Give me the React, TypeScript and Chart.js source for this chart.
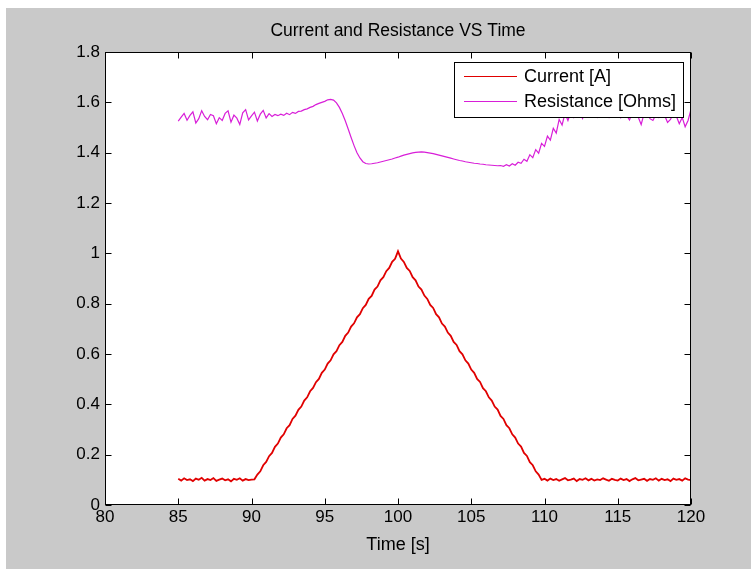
import React, { useEffect, useRef } from 'react';
import { Chart, registerables } from 'chart.js';

Chart.register(...registerables);

const TITLE = 'Current and Resistance VS Time';
const X_TITLE = 'Time [s]';
const SERIES_NAMES = ['Current [A]', 'Resistance [Ohms]'];
const SERIES_COLORS = ['#e00000', '#d81ed8'];
const X_TICKS = [80, 85, 90, 95, 100, 105, 110, 115, 120];
const Y_TICKS = [0, 0.2, 0.4, 0.6, 0.8, 1, 1.2, 1.4, 1.6, 1.8];
const Y_TICK_LABELS = ['0', '0.2', '0.4', '0.6', '0.8', '1', '1.2', '1.4', '1.6', '1.8'];

const time = [
  85, 85.2, 85.4, 85.6, 85.8,
  86, 86.2, 86.4, 86.6, 86.8,
  87, 87.2, 87.4, 87.6, 87.8,
  88, 88.2, 88.4, 88.6, 88.8,
  89, 89.2, 89.4, 89.6, 89.8,
  90, 90.2, 90.4, 90.6, 90.8,
  91, 91.2, 91.4, 91.6, 91.8,
  92, 92.2, 92.4, 92.6, 92.8,
  93, 93.2, 93.4, 93.6, 93.8,
  94, 94.2, 94.4, 94.6, 94.8,
  95, 95.2, 95.4, 95.6, 95.8,
  96, 96.2, 96.4, 96.6, 96.8,
  97, 97.2, 97.4, 97.6, 97.8,
  98, 98.2, 98.4, 98.6, 98.8,
  99, 99.2, 99.4, 99.6, 99.8,
  100, 100.2, 100.4, 100.6, 100.8,
  101, 101.2, 101.4, 101.6, 101.8,
  102, 102.2, 102.4, 102.6, 102.8,
  103, 103.2, 103.4, 103.6, 103.8,
  104, 104.2, 104.4, 104.6, 104.8,
  105, 105.2, 105.4, 105.6, 105.8,
  106, 106.2, 106.4, 106.6, 106.8,
  107, 107.2, 107.4, 107.6, 107.8,
  108, 108.2, 108.4, 108.6, 108.8,
  109, 109.2, 109.4, 109.6, 109.8,
  110, 110.2, 110.4, 110.6, 110.8,
  111, 111.2, 111.4, 111.6, 111.8,
  112, 112.2, 112.4, 112.6, 112.8,
  113, 113.2, 113.4, 113.6, 113.8,
  114, 114.2, 114.4, 114.6, 114.8,
  115, 115.2, 115.4, 115.6, 115.8,
  116, 116.2, 116.4, 116.6, 116.8,
  117, 117.2, 117.4, 117.6, 117.8,
  118, 118.2, 118.4, 118.6, 118.8,
  119, 119.2, 119.4, 119.6, 119.8,
  120,
];

const current = [
  0.104, 0.097, 0.106, 0.099, 0.102,
  0.095, 0.105, 0.100, 0.108, 0.097,
  0.103, 0.099, 0.107, 0.096, 0.101,
  0.105, 0.098, 0.102, 0.094, 0.104,
  0.100, 0.106, 0.097, 0.103, 0.099,
  0.101, 0.102, 0.121, 0.134, 0.158,
  0.171, 0.194, 0.207, 0.231, 0.244,
  0.268, 0.281, 0.305, 0.317, 0.342,
  0.355, 0.378, 0.391, 0.415, 0.428,
  0.452, 0.465, 0.488, 0.501, 0.525,
  0.538, 0.562, 0.575, 0.599, 0.611,
  0.635, 0.648, 0.672, 0.685, 0.709,
  0.722, 0.746, 0.758, 0.782, 0.795,
  0.819, 0.831, 0.856, 0.868, 0.893,
  0.905, 0.929, 0.942, 0.966, 0.978,
  1.008, 0.979, 0.966, 0.942, 0.930,
  0.905, 0.893, 0.868, 0.856, 0.832,
  0.819, 0.795, 0.783, 0.758, 0.746,
  0.721, 0.709, 0.685, 0.672, 0.648,
  0.636, 0.611, 0.599, 0.575, 0.562,
  0.538, 0.525, 0.501, 0.489, 0.464,
  0.452, 0.428, 0.415, 0.391, 0.379,
  0.354, 0.342, 0.317, 0.305, 0.281,
  0.268, 0.244, 0.232, 0.207, 0.195,
  0.170, 0.158, 0.134, 0.121, 0.100,
  0.104, 0.097, 0.105, 0.099, 0.103,
  0.096, 0.102, 0.107, 0.098, 0.101,
  0.105, 0.095, 0.103, 0.100, 0.106,
  0.098, 0.104, 0.097, 0.102, 0.099,
  0.106, 0.101, 0.096, 0.104, 0.100,
  0.097, 0.105, 0.099, 0.103, 0.095,
  0.102, 0.107, 0.098, 0.101, 0.104,
  0.096, 0.103, 0.100, 0.106, 0.097,
  0.104, 0.099, 0.102, 0.095, 0.105,
  0.100, 0.103, 0.097, 0.106, 0.101,
  0.099,
];

const resistance = [
  1.525, 1.541, 1.556, 1.529, 1.548,
  1.562, 1.518, 1.535, 1.567, 1.544,
  1.531, 1.552, 1.547, 1.515, 1.539,
  1.528, 1.556, 1.566, 1.521, 1.549,
  1.537, 1.512, 1.558, 1.571, 1.530,
  1.546, 1.561, 1.526, 1.553, 1.568,
  1.538, 1.555, 1.544, 1.552, 1.547,
  1.553, 1.548, 1.557, 1.551, 1.560,
  1.556, 1.564, 1.565, 1.571, 1.574,
  1.580, 1.584, 1.591, 1.596, 1.600,
  1.604, 1.610, 1.612, 1.609, 1.598,
  1.580, 1.556, 1.527, 1.494, 1.460,
  1.428, 1.400, 1.379, 1.364, 1.357,
  1.355, 1.356, 1.358, 1.360, 1.363,
  1.366, 1.369, 1.372, 1.375, 1.379,
  1.382, 1.386, 1.390, 1.393, 1.396,
  1.399, 1.401, 1.402, 1.403, 1.402,
  1.400, 1.398, 1.396, 1.393, 1.390,
  1.387, 1.384, 1.381, 1.378, 1.375,
  1.372, 1.369, 1.367, 1.364, 1.362,
  1.360, 1.358, 1.357, 1.355, 1.354,
  1.352, 1.351, 1.350, 1.349, 1.348,
  1.349, 1.346, 1.352, 1.347, 1.356,
  1.350, 1.362, 1.358, 1.374, 1.366,
  1.392, 1.380, 1.412, 1.398, 1.437,
  1.425, 1.466, 1.450, 1.497, 1.478,
  1.532, 1.510, 1.556, 1.528, 1.562,
  1.540, 1.566, 1.558, 1.536, 1.570,
  1.548, 1.575, 1.562, 1.541, 1.566,
  1.578, 1.552, 1.540, 1.560, 1.571,
  1.546, 1.538, 1.565, 1.549, 1.530,
  1.558, 1.562, 1.541, 1.512, 1.556,
  1.560, 1.535, 1.528, 1.551, 1.540,
  1.563, 1.548, 1.520, 1.532, 1.558,
  1.545, 1.515, 1.540, 1.503, 1.528,
  1.572,
];

const FONT_FAMILY = "'Liberation Sans', Arial, Helvetica, sans-serif";
const FIG_BG = '#c9c9c9';
const LEGEND_FONT_SIZE = 18;

const matlabFrame = {
  id: 'matlabFrame',
  beforeDraw(chart: any) {
    const { ctx, width, height, chartArea: a } = chart;
    ctx.save();
    ctx.fillStyle = FIG_BG;
    ctx.fillRect(0, 0, width, height);
    ctx.fillStyle = '#ffffff';
    ctx.fillRect(a.left, a.top, a.right - a.left, a.bottom - a.top);
    ctx.restore();
  },
  afterDatasetsDraw(chart: any) {
    const { ctx, chartArea: a, scales } = chart;
    const xs = scales.x;
    const ys = scales.y;
    const L = Math.round(a.left) + 0.5;
    const R = Math.round(a.right) - 0.5;
    const T = Math.round(a.top) + 0.5;
    const B = Math.round(a.bottom) - 0.5;
    const tl = 6;
    ctx.save();
    ctx.strokeStyle = '#000';
    ctx.lineWidth = 1;
    ctx.beginPath();
    X_TICKS.forEach((v) => {
      const px = Math.round(xs.getPixelForValue(v)) + 0.5;
      ctx.moveTo(px, B);
      ctx.lineTo(px, B - tl);
      ctx.moveTo(px, T);
      ctx.lineTo(px, T + tl);
    });
    Y_TICKS.forEach((v) => {
      const py = Math.round(ys.getPixelForValue(v)) + 0.5;
      ctx.moveTo(L, py);
      ctx.lineTo(L + tl, py);
      ctx.moveTo(R, py);
      ctx.lineTo(R - tl, py);
    });
    ctx.stroke();
    ctx.strokeRect(L, T, R - L, B - T);

    // legend box (MATLAB style, inside axes, north-east)
    ctx.font = `${LEGEND_FONT_SIZE}px ${FONT_FAMILY}`;
    const maxW = Math.max(...SERIES_NAMES.map((s) => ctx.measureText(s).width));
    const w = Math.round(70 + maxW + 8);
    const h = 56;
    const right = Math.round(a.right) - 7;
    const left = right - w;
    const top = Math.round(a.top) + 10;
    ctx.fillStyle = '#ffffff';
    ctx.fillRect(left, top, w, h);
    ctx.strokeStyle = '#000';
    ctx.strokeRect(left + 0.5, top + 0.5, w - 1, h - 1);
    const rows = [14.5, 39.5];
    chart.data.datasets.forEach((ds: any, i: number) => {
      const y = top + rows[i];
      ctx.strokeStyle = ds.borderColor;
      ctx.lineWidth = 1.2;
      ctx.beginPath();
      ctx.moveTo(left + 10, y);
      ctx.lineTo(left + 63, y);
      ctx.stroke();
      ctx.fillStyle = '#000';
      ctx.textBaseline = 'middle';
      ctx.textAlign = 'left';
      ctx.fillText(ds.label, left + 70, y + 1);
    });
    ctx.restore();
  },
};

export default function App() {
  const canvasRef = useRef<HTMLCanvasElement | null>(null);

  useEffect(() => {
    const canvas = canvasRef.current;
    if (!canvas) return;
    const chart = new Chart(canvas, {
      type: 'line',
      data: {
        datasets: [
          {
            label: SERIES_NAMES[0],
            data: time.map((t, i) => ({ x: t, y: current[i] })),
            borderColor: SERIES_COLORS[0],
            borderWidth: 1.8,
            pointRadius: 0,
            tension: 0,
          },
          {
            label: SERIES_NAMES[1],
            data: time.map((t, i) => ({ x: t, y: resistance[i] })),
            borderColor: SERIES_COLORS[1],
            borderWidth: 1.2,
            pointRadius: 0,
            tension: 0,
          },
        ],
      },
      options: {
        responsive: false,
        animation: false,
        events: [],
        layout: { padding: { left: 0, right: 60, top: 0, bottom: 0 } },
        plugins: {
          legend: { display: false },
          tooltip: { enabled: false },
          title: {
            display: true,
            text: TITLE,
            fullSize: false,
            color: '#000',
            font: { family: FONT_FAMILY, size: 17.5, weight: 'normal', lineHeight: 1.2 },
            padding: { top: 12.5, bottom: 10.5 },
          },
        },
        scales: {
          x: {
            type: 'linear',
            min: 80,
            max: 120,
            grid: { display: false, drawTicks: false },
            border: { display: false },
            afterBuildTicks: (scale: any) => {
              scale.ticks = X_TICKS.map((v) => ({ value: v }));
            },
            afterFit: (scale: any) => {
              scale.height = 64;
            },
            ticks: {
              color: '#000',
              padding: 5,
              maxRotation: 0,
              autoSkip: false,
              font: { family: FONT_FAMILY, size: 17, lineHeight: 0.9 },
              callback: (v: any) => String(v),
            },
            title: {
              display: true,
              text: X_TITLE,
              color: '#000',
              font: { family: FONT_FAMILY, size: 18, lineHeight: 1.2 },
              padding: { top: 0, bottom: 13 },
            },
          },
          y: {
            type: 'linear',
            min: 0,
            max: 1.8,
            grid: { display: false, drawTicks: false },
            border: { display: false },
            afterBuildTicks: (scale: any) => {
              scale.ticks = Y_TICKS.map((v) => ({ value: v }));
            },
            afterFit: (scale: any) => {
              scale.width = 99;
            },
            ticks: {
              color: '#000',
              padding: 5,
              autoSkip: false,
              font: { family: FONT_FAMILY, size: 17, lineHeight: 1.2 },
              callback: (_v: any, i: number) => Y_TICK_LABELS[i],
            },
          },
        },
      },
      plugins: [matlabFrame],
    } as any);
    return () => chart.destroy();
  }, []);

  return (
    <div style={{ position: 'absolute', left: 6, top: 8, width: 745, height: 561 }}>
      <canvas ref={canvasRef} width={745} height={561} style={{ width: 745, height: 561, display: 'block' }} />
    </div>
  );
}
